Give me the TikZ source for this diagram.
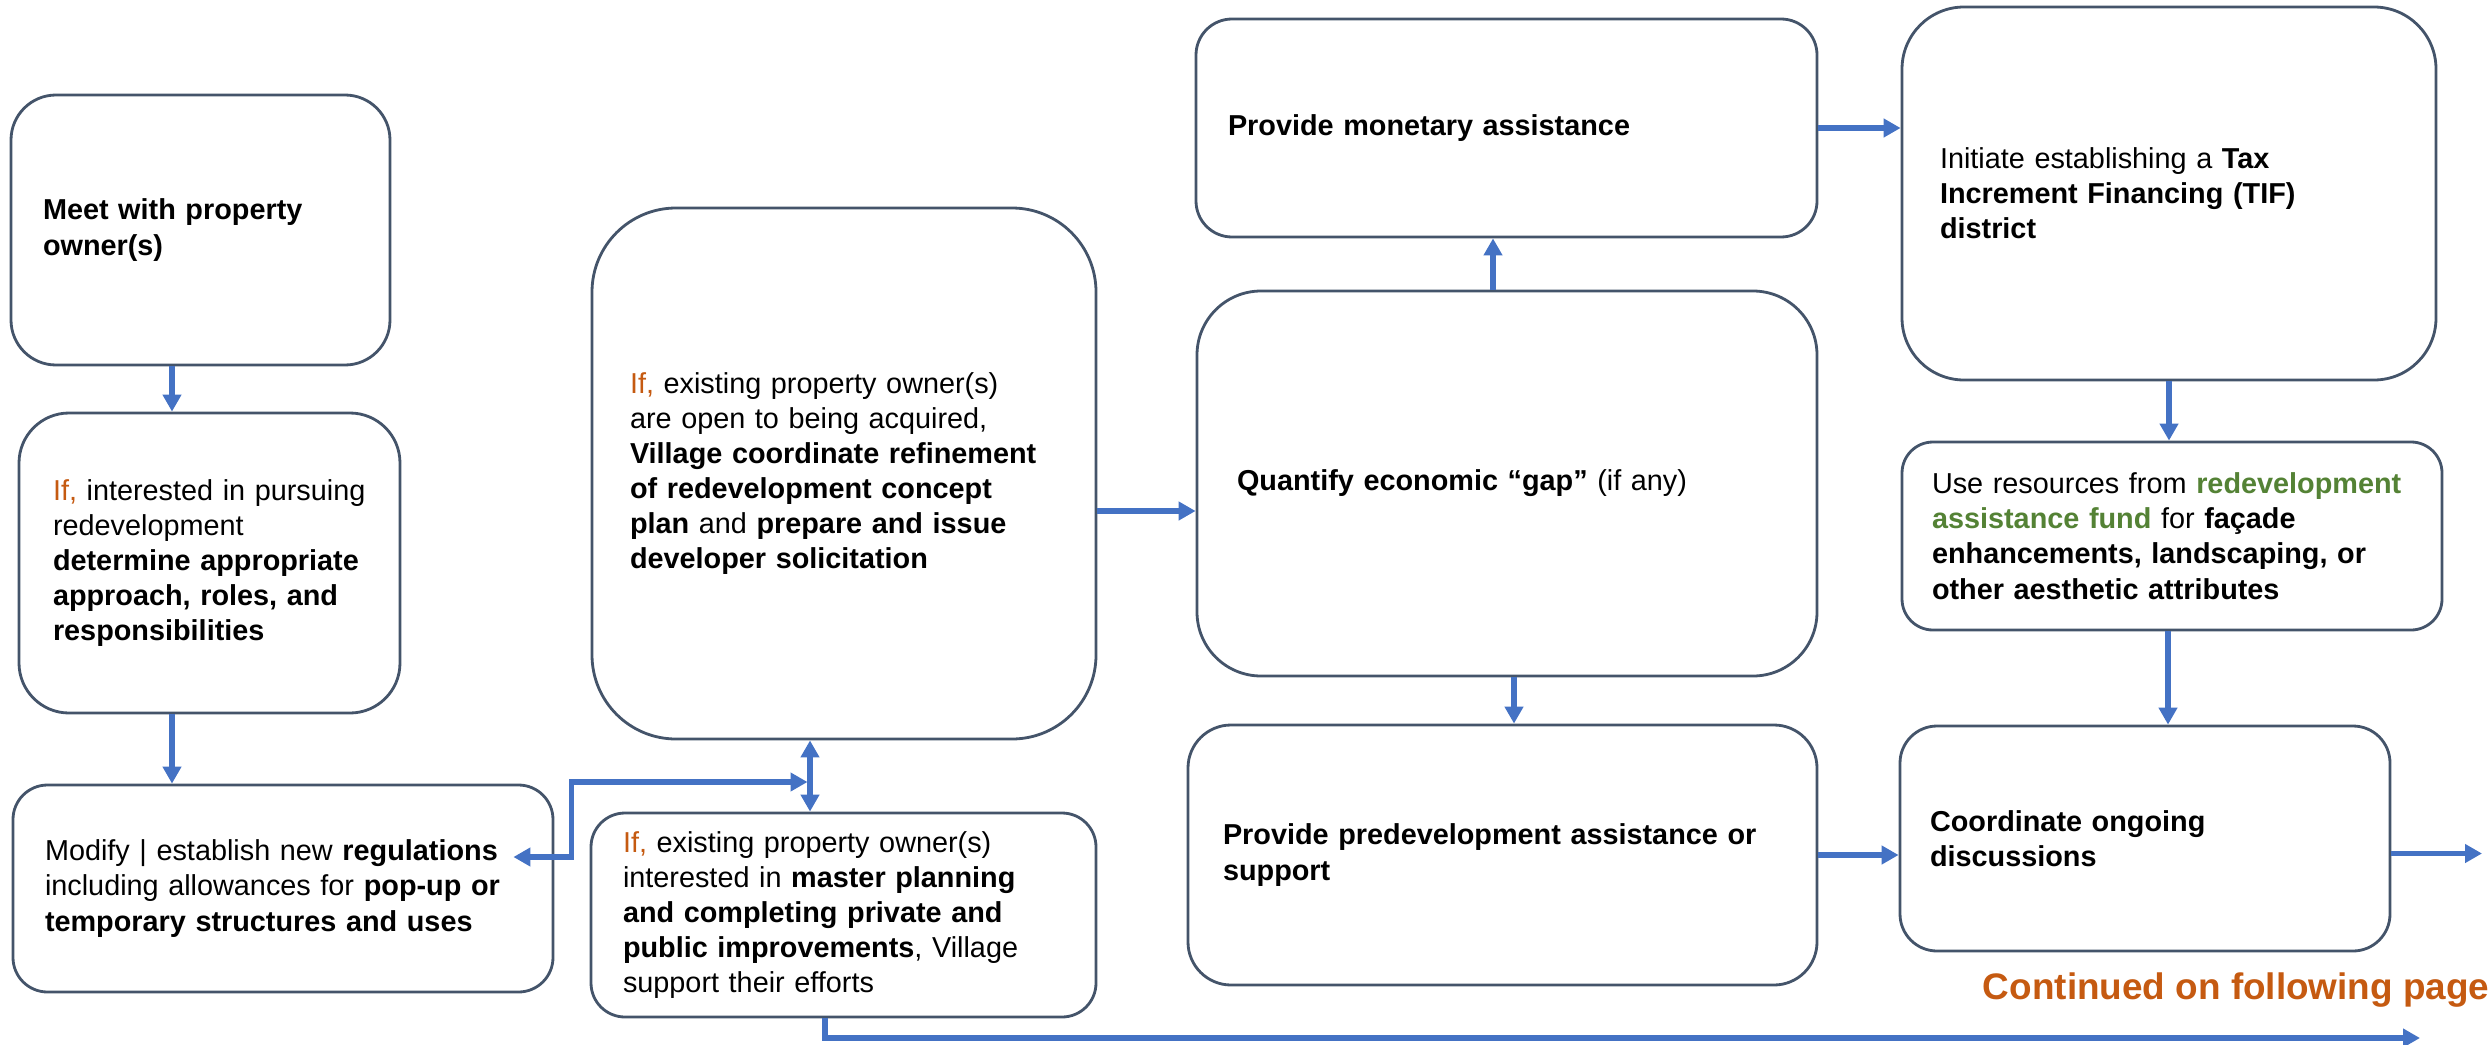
\documentclass[tikz,border=0pt]{standalone}
\usepackage{fontspec}
\setmainfont{Liberation Sans}
\usetikzlibrary{arrows.meta}
\definecolor{slate}{HTML}{44546A}
\definecolor{flowblue}{HTML}{4472C4}
\definecolor{condorange}{HTML}{C55A11}
\definecolor{fundgreen}{HTML}{548235}
\newcommand{\condtext}[1]{\textcolor{condorange}{#1}}
\newcommand{\fundtext}[1]{\textcolor{fundgreen}{\textbf{#1}}}

\begin{document}
\begin{tikzpicture}[>={Triangle[length=1.7mm,width=1.8mm]},
    stage/.style={draw=slate, line width=0.8pt, align=left, inner xsep=3.2mm, inner ysep=0pt, font=\fontsize{8.2}{10}\selectfont},
    link/.style={draw=flowblue, line width=1.6pt, ->}]
    \useasboundingbox (0,0) rectangle (24.91,-10.45);

    \node[stage, text width=3.15cm, minimum height=2.70cm, rounded corners=4.5mm] (meet) at (2.005,-2.30) {\textbf{Meet with property}\\ \textbf{owner(s)}};
    \node[stage, inner xsep=3.4mm, text width=3.13cm, minimum height=3.00cm, rounded corners=5mm] (pursue) at (2.095,-5.63) {\condtext{If,} interested in pursuing\\ redevelopment\\ \textbf{determine appropriate}\\ \textbf{approach, roles, and}\\ \textbf{responsibilities}};
    \node[stage, text width=4.76cm, minimum height=2.07cm, rounded corners=3.45mm] (modify) at (2.83,-8.885) {Modify | establish new \textbf{regulations}\\ including allowances for \textbf{pop-up or}\\ \textbf{temporary structures and uses}};
    \node[stage, inner xsep=3.8mm, text width=4.28cm, minimum height=5.31cm, rounded corners=8.4mm] (acquire) at (8.44,-4.735) {\condtext{If,} existing property owner(s)\\ are open to being acquired,\\ \textbf{Village coordinate refinement}\\ \textbf{of redevelopment concept}\\ \textbf{plan} and \textbf{prepare and issue}\\ \textbf{developer solicitation}};
    \node[stage, text width=4.41cm, minimum height=2.04cm, rounded corners=3.4mm] (improve) at (8.435,-9.15) {\condtext{If,} existing property owner(s)\\ interested in \textbf{master planning}\\ \textbf{and completing private and}\\ \textbf{public improvements}, Village\\ support their efforts};
    \node[stage, text width=5.57cm, minimum height=2.18cm, rounded corners=3.6mm] (money) at (15.065,-1.28) {\textbf{Provide monetary assistance}};
    \node[stage, inner xsep=4mm, text width=5.40cm, minimum height=3.85cm, rounded corners=6.4mm] (gap) at (15.07,-4.835) {\textbf{Quantify economic “gap”} (if any)};
    \node[stage, inner xsep=3.5mm, text width=5.59cm, minimum height=2.60cm, rounded corners=4.3mm] (predev) at (15.025,-8.55) {\textbf{Provide predevelopment assistance or}\\ \textbf{support}};
    \node[stage, inner xsep=3.8mm, text width=4.58cm, minimum height=3.73cm, rounded corners=6.2mm] (tif) at (21.69,-1.935) {Initiate establishing a \textbf{Tax}\\ \textbf{Increment Financing (TIF)}\\ \textbf{district}};
    \node[stage, inner xsep=3mm, text width=4.80cm, minimum height=1.88cm, rounded corners=3.1mm] (fund) at (21.72,-5.36) {Use resources from \fundtext{redevelopment}\\ \fundtext{assistance fund} for \textbf{façade}\\ \textbf{enhancements, landscaping, or}\\ \textbf{other aesthetic attributes}};
    \node[stage, inner xsep=3mm, text width=4.30cm, minimum height=2.25cm, rounded corners=3.7mm] (ongoing) at (21.45,-8.385) {\textbf{Coordinate ongoing}\\ \textbf{discussions}};
    \node[anchor=east, inner sep=0pt, text=condorange, font=\fontsize{10.5}{12}\selectfont\bfseries] (cont) at (24.9,-9.90) {Continued on following page};

    \coordinate (hub) at (8.075,-7.82);
    \coordinate (nextpage) at (24.82,-8.535);
    \coordinate (nextrow) at (24.2,-10.38);

    \draw[link] ([xshift=-2.85mm]meet.south) -- ([xshift=-2.85mm]meet.south |- pursue.north);
    \draw[link] ([xshift=-3.75mm]pursue.south) -- ([xshift=-3.75mm]pursue.south |- modify.north);
    \draw[link] ([yshift=-3.75mm]acquire.east) -- ([yshift=-3.75mm]acquire.east -| gap.west);
    \draw[link] ([xshift=-1.4mm]gap.north) -- ([xshift=-1.4mm]gap.north |- money.south);
    \draw[link] (money.east) -- (money.east -| tif.west);
    \draw[link] ([xshift=0.7mm]gap.south) -- ([xshift=0.7mm]gap.south |- predev.north);
    \draw[link] (tif.south) -- (tif.south |- fund.north);
    \draw[link] ([xshift=-0.4mm]fund.south) -- ([xshift=-0.4mm]fund.south |- ongoing.north);
    \draw[link] (predev.east) -- (predev.east -| ongoing.west);
    \draw[link] (ongoing.east |- nextpage) -- (nextpage);
    \draw[link, <->] ([xshift=-3.4mm]acquire.south) -- ([xshift=-3.4mm]acquire.south |- improve.north);
    \draw[link, <->] ([xshift=-4.1mm,yshift=3.15mm]modify.east) -- ++(0.58,0) |- (hub);
    \draw[link] ([xshift=-1.85mm]improve.south) |- (nextrow);
\end{tikzpicture}
\end{document}
